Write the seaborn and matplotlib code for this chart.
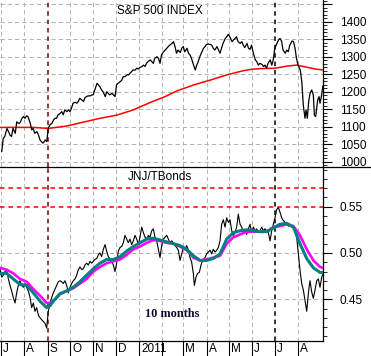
import numpy as np
import pandas as pd
import matplotlib
matplotlib.use("Agg")
import matplotlib.pyplot as plt
import seaborn as sns
from matplotlib.lines import Line2D
from matplotlib.ticker import MultipleLocator, FixedLocator
from matplotlib.transforms import blended_transform_factory, ScaledTranslation

# ---------------- data (x = days since 2010-07-01) ----------------
START = pd.Timestamp("2010-07-01")

spx_day = [1, 3, 5, 8, 10, 12, 14, 16, 19, 21,
           23, 25, 28, 30, 32, 34, 36, 39, 41, 43,
           45, 48, 50, 52, 54, 56, 59, 61, 63, 65,
           68, 70, 72, 74, 76, 79, 81, 83, 85, 88,
           90, 92, 94, 96, 99, 101, 103, 105, 108, 110,
           112, 114, 116, 119, 121, 123, 125, 128, 130, 132,
           134, 136, 139, 141, 143, 145, 148, 150, 152, 154,
           156, 159, 161, 163, 165, 168, 170, 172, 174, 176,
           179, 181, 183, 185, 188, 190, 192, 194, 196, 199,
           201, 203, 205, 208, 210, 212, 214, 216,
           219, 221, 223, 225, 228, 230, 232, 234, 236, 239,
           241, 243, 245, 248, 250, 252, 254, 256, 259, 261,
           263, 265, 268, 270, 272, 274, 276, 279, 281, 283,
           285, 288, 290, 292, 294, 296, 299, 301, 303, 305,
           308, 310, 312, 314, 316, 319, 321, 323, 325, 328,
           330, 332, 334, 336, 339, 341, 343, 345, 348, 350,
           352, 354, 356, 359, 361, 363, 365, 368, 370, 372,
           374, 376, 379, 381, 383, 385, 388, 390, 392, 394,
           396, 399, 401, 403, 405.3, 406.7, 408.4, 410.2, 412, 414.2,
           416.4, 417.8, 419.5, 420.9, 422.2, 424, 425.3, 427.1, 428.9, 430.7]
spx_val = [1029, 1067, 1072, 1095, 1086, 1076, 1072, 1095, 1081, 1114,
           1110, 1110, 1124, 1129, 1124, 1131, 1129, 1110, 1091, 1095,
           1081, 1086, 1076, 1062, 1057, 1053, 1062, 1057, 1095, 1105,
           1110, 1119, 1124, 1124, 1134, 1138, 1143, 1134, 1148, 1143,
           1148, 1143, 1153, 1167, 1170, 1167, 1172, 1181, 1176, 1172,
           1183, 1186, 1188, 1188, 1191, 1191, 1205, 1224, 1219, 1214,
           1205, 1200, 1186, 1200, 1195, 1191, 1195, 1191, 1186, 1219,
           1224, 1229, 1233, 1243, 1243, 1248, 1248, 1253, 1257, 1262,
           1262, 1267, 1265, 1269, 1272, 1276, 1272, 1281, 1286, 1291,
           1286, 1281, 1295, 1300, 1295, 1281, 1305, 1312,
           1319, 1324, 1329, 1333, 1338, 1343, 1329, 1310, 1319, 1312,
           1324, 1329, 1314, 1324, 1310, 1305, 1295, 1281, 1262, 1276,
           1286, 1300, 1314, 1324, 1329, 1335, 1336, 1335, 1333, 1324,
           1319, 1329, 1319, 1310, 1324, 1338, 1352, 1357, 1364, 1357,
           1343, 1348, 1352, 1357, 1343, 1338, 1343, 1333, 1326, 1338,
           1324, 1321, 1333, 1314, 1291, 1286, 1276, 1281, 1278, 1272,
           1276, 1267, 1281, 1291, 1276, 1291, 1324, 1338, 1348, 1352,
           1345, 1319, 1310, 1319, 1314, 1333, 1345, 1343, 1324, 1295,
           1276, 1262, 1229, 1162, 1124, 1148, 1124, 1172, 1195, 1205,
           1191, 1133, 1129, 1153, 1176, 1186, 1167, 1186, 1214, 1222]

spx_ma_day = [-1.3, 43.1, 63.1, 87.6, 109.8, 132, 154.2, 176.4, 198.7, 218.7,
              234.2, 256.4, 278.7, 300.9, 323.1, 334.2, 345.3, 365.3, 380.9,
              394.2, 407.6, 420.9, 432]
spx_ma_val = [1098, 1098, 1095, 1102, 1113, 1124, 1133, 1148, 1169, 1186,
              1202, 1219, 1233, 1248, 1260, 1264, 1266, 1267, 1273,
              1276, 1270, 1264, 1262]

jnj_day = [-1.3, 0.9, 3.1, 5.3, 7.6, 9.8, 12, 14.2, 16.4, 18.7,
           20.9, 23.1, 25.3, 27.6, 29.8, 32, 34.2, 36.4, 38.7, 40.9,
           43.1, 45.3, 47.6, 49.8, 52, 54.2, 56.4, 58.7, 60.9, 63.1,
           65.3, 67.6, 69.8, 72, 74.2, 76.4, 78.7, 80.9, 83.1, 85.3,
           87.6, 89.8, 92, 94.2, 96.4, 98.7, 100.9, 103.1, 105.3, 107.6,
           109.8, 112, 114.2, 116.4, 118.7, 120.9, 123.1, 125.3, 127.6, 129.8,
           132, 134.2, 136.4, 138.7, 140.9, 143.1, 145.3, 147.6, 149.8, 152,
           154.2, 156.4, 158.7, 160.9, 163.1, 165.3, 167.6, 169.8, 172, 174.2,
           176.4, 178.7, 180.9, 183.1, 185.3, 187.6, 189.8, 192, 194.2, 196.4,
           198.7, 200.9, 203.1, 205.3, 207.6, 209.8, 212,
           214.2, 216.4, 218.7, 220.9, 223.1, 225.3, 227.6, 229.8, 232, 234.2,
           236.4, 238.7, 240.9, 243.1, 245.3, 247.6, 249.8, 252, 254.2, 256.4,
           257.8, 260, 262.2, 264.4, 266.7, 268.9, 272, 274.2, 276.4, 278.7,
           280.9, 283.1, 285.3, 287.6, 289.8, 292, 294.2, 296.4, 298.7, 300.9,
           303.1, 305.3, 307.6, 309.8, 312, 314.2, 316.4, 318.7, 320.9, 323.1,
           325.3, 327.6, 329.8, 332, 334.2, 336.4, 338.7, 340.9, 343.1, 345.3,
           347.6, 349.8, 352, 354.2, 356.4, 358.7, 360.9, 363.1, 365.3, 367.6,
           369.8, 372, 374.2, 376.4, 378.7, 380.9, 383.1, 385.3, 387.6, 389.8,
           392, 394.2, 396.4, 398.7, 400.9, 403.1, 405.3, 407.6, 408.9, 410.7,
           412, 414.2, 416.4, 418.7, 420.9, 423.1, 425.3, 427.6, 429.8, 432]
jnj_val = [0.483, 0.474, 0.476, 0.480, 0.482, 0.472, 0.465, 0.459, 0.452, 0.446,
           0.457, 0.465, 0.470, 0.465, 0.463, 0.467, 0.463, 0.459, 0.452, 0.441,
           0.446, 0.437, 0.441, 0.433, 0.430, 0.428, 0.426, 0.424, 0.419, 0.437,
           0.446, 0.452, 0.457, 0.461, 0.465, 0.469, 0.470, 0.469, 0.467, 0.470,
           0.465, 0.457, 0.463, 0.467, 0.470, 0.472, 0.476, 0.482, 0.485, 0.482,
           0.483, 0.487, 0.489, 0.487, 0.491, 0.489, 0.491, 0.493, 0.494, 0.498,
           0.500, 0.496, 0.504, 0.509, 0.502, 0.496, 0.494, 0.491, 0.487, 0.480,
           0.489, 0.502, 0.506, 0.507, 0.511, 0.519, 0.515, 0.511, 0.515, 0.509,
           0.513, 0.519, 0.515, 0.509, 0.517, 0.528, 0.522, 0.517, 0.515, 0.519,
           0.517, 0.524, 0.526, 0.517, 0.513, 0.504, 0.495,
           0.508, 0.515, 0.517, 0.519, 0.515, 0.511, 0.513, 0.511, 0.508, 0.506,
           0.503, 0.492, 0.499, 0.506, 0.504, 0.508, 0.503, 0.495, 0.490, 0.478,
           0.465, 0.474, 0.478, 0.479, 0.487, 0.492, 0.495, 0.499, 0.501, 0.503,
           0.499, 0.504, 0.501, 0.503, 0.506, 0.513, 0.531, 0.536, 0.528, 0.538,
           0.533, 0.536, 0.524, 0.519, 0.522, 0.528, 0.542, 0.531, 0.528, 0.522,
           0.524, 0.520, 0.526, 0.531, 0.522, 0.528, 0.524, 0.526, 0.522, 0.524,
           0.528, 0.524, 0.526, 0.524, 0.522, 0.513, 0.524, 0.531, 0.538, 0.547,
           0.549, 0.544, 0.538, 0.535, 0.533, 0.531, 0.529, 0.531, 0.528, 0.529,
           0.524, 0.517, 0.499, 0.481, 0.467, 0.460, 0.449, 0.437, 0.449, 0.463,
           0.470, 0.458, 0.451, 0.460, 0.470, 0.472, 0.463, 0.474, 0.478, 0.479]

teal_day = [-1.3, 7.6, 16.4, 25.3, 34.2, 43.1, 52, 60.9, 65.3, 69.8,
            78.7, 87.6, 96.4, 105.3, 114.2, 123.1, 132, 140.9, 149.8, 158.7,
            167.6, 176.4, 185.3, 194.2, 203.1, 212, 220.9, 229.8, 238.7, 247.6,
            256.4, 265.3, 274.2, 283.1, 292, 300.9, 309.8, 318.7, 327.6, 336.4,
            345.3, 354.2, 363.1, 372, 380.9, 389.8, 398.7, 407.6, 416.4, 425.3, 432]
teal_val = [0.478, 0.478, 0.472, 0.466, 0.465, 0.457, 0.448, 0.441, 0.443, 0.448,
            0.456, 0.459, 0.463, 0.469, 0.476, 0.483, 0.489, 0.493, 0.493, 0.496,
            0.502, 0.507, 0.511, 0.515, 0.516, 0.514, 0.512, 0.510, 0.508, 0.504,
            0.497, 0.492, 0.492, 0.494, 0.499, 0.515, 0.522, 0.524, 0.525, 0.524,
            0.523, 0.523, 0.527, 0.531, 0.532, 0.528, 0.510, 0.494, 0.484, 0.479, 0.479]

magenta_day = [-1.3, 7.6, 16.4, 25.3, 34.2, 43.1, 52, 60.9, 65.3, 72,
               78.7, 87.6, 96.4, 105.3, 114.2, 123.1, 132, 140.9, 149.8, 158.7,
               167.6, 176.4, 185.3, 194.2, 203.1, 212, 220.9, 229.8, 238.7, 247.6,
               256.4, 265.3, 274.2, 283.1, 292, 300.9, 309.8, 318.7, 327.6, 336.4,
               345.3, 354.2, 363.1, 372, 380.9, 389.8, 398.7, 407.6, 416.4, 425.3, 432]
magenta_val = [0.484, 0.482, 0.478, 0.472, 0.469, 0.461, 0.454, 0.446, 0.446, 0.450,
               0.456, 0.459, 0.462, 0.467, 0.472, 0.480, 0.485, 0.489, 0.491, 0.493,
               0.498, 0.504, 0.507, 0.511, 0.514, 0.513, 0.511, 0.510, 0.507, 0.503,
               0.495, 0.492, 0.493, 0.495, 0.497, 0.510, 0.517, 0.520, 0.523, 0.523,
               0.523, 0.523, 0.528, 0.529, 0.531, 0.529, 0.519, 0.504, 0.492, 0.485, 0.483]

month_starts = pd.date_range("2010-07-01", "2011-08-01", freq="MS")
month_labels = ["J", "A", "S", "O", "N", "D", "2011", "", "M", "A", "M", "J", "J", "A"]
spx_ticks = [1000, 1050, 1100, 1150, 1200, 1250, 1300, 1350, 1400, 1450]
spx_tick_labels = ["1000", "1050", "1100", "1150", "1200", "1250", "1300", "1350", "1400", ""]
jnj_ticks = [0.45, 0.50, 0.55]
jnj_grid = [0.45, 0.50]
jnj_red_levels = [0.55, 0.57]
red_marker_date = pd.Timestamp("2010-09-01")
black_marker_date = pd.Timestamp("2011-07-01")

def to_dates(days):
    return START + pd.to_timedelta(np.array(days, dtype=float), unit="D")

spx_df = pd.DataFrame({"date": to_dates(spx_day), "value": spx_val})
spx_ma_df = pd.DataFrame({"date": to_dates(spx_ma_day), "value": spx_ma_val})
jnj_df = pd.DataFrame({"date": to_dates(jnj_day), "value": jnj_val})
teal_df = pd.DataFrame({"date": to_dates(teal_day), "value": teal_val})
mag_df = pd.DataFrame({"date": to_dates(magenta_day), "value": magenta_val})

# ---------------- style ----------------
sns.set_style("white")
plt.rcParams["font.family"] = ["Liberation Sans", "DejaVu Sans"]

W, H = 371, 356
fig = plt.figure(figsize=(W / 100, H / 100), dpi=100)
fig.patch.set_facecolor("white")

sep_y = 167.3
bot_y = 340.7
right_x = 323.3
ax1 = fig.add_axes([0, 1 - sep_y / H, right_x / W, sep_y / H])
ax2 = fig.add_axes([0, 1 - bot_y / H, right_x / W, (bot_y - sep_y) / H])

xmin = START + pd.Timedelta(days=-1.33)
xmax = START + pd.Timedelta(days=429.7)

grid_kw = dict(color="#b4b4b4", lw=0.75, ls=(0, (4, 3)), zorder=0.5)

for ax in (ax1, ax2):
    ax.set_facecolor("white")
    for m in month_starts:
        if m == red_marker_date:
            ax.axvline(m, color="#800000", lw=1.1, ls=(0, (3, 2.5)), zorder=0.6)
        elif m == black_marker_date:
            ax.axvline(m, color="black", lw=1.1, ls=(0, (3, 2.5)), zorder=0.6)
        else:
            ax.axvline(m, **grid_kw)

for v in spx_ticks:
    ax1.axhline(v, **grid_kw)
for v in jnj_grid:
    ax2.axhline(v, **grid_kw)
for v in jnj_red_levels:
    ax2.axhline(v, color="#ff0000", lw=1.1, ls=(0, (3, 2.5)), zorder=0.6)

# ---------------- lines ----------------
sns.lineplot(data=spx_df, x="date", y="value", ax=ax1, color="black", lw=0.9,
             estimator=None, sort=False, zorder=3)
sns.lineplot(data=spx_ma_df, x="date", y="value", ax=ax1, color="#ff0000", lw=1.1,
             estimator=None, sort=False, zorder=2)

sns.lineplot(data=jnj_df, x="date", y="value", ax=ax2, color="black", lw=0.8,
             estimator=None, sort=False, zorder=2)
sns.lineplot(data=mag_df, x="date", y="value", ax=ax2, color="#ff00ff", lw=1.9,
             estimator=None, sort=False, zorder=3)
sns.lineplot(data=teal_df, x="date", y="value", ax=ax2, color="#008080", lw=2.2,
             estimator=None, sort=False, zorder=4)

# ---------------- axes ----------------
ax1.set_ylim(984, 1462)
ax2.set_ylim(0.4053, 0.5925)
for ax in (ax1, ax2):
    ax.set_xlim(xmin, xmax)
    ax.set_xlabel("")
    ax.set_ylabel("")
    ax.yaxis.tick_right()
    for s in ("left", "top"):
        ax.spines[s].set_visible(False)
    ax.spines["right"].set_color("black")
    ax.spines["right"].set_linewidth(0.9)
    ax.tick_params(axis="y", which="major", direction="out", length=6.5, width=0.8,
                   pad=5.5, labelsize=8.5, colors="black", right=True, left=False)
    ax.tick_params(axis="y", which="minor", direction="out", length=3, width=0.7,
                   right=True, left=False)

ax1.spines["bottom"].set_visible(False)
ax1.set_xticks([])
ax1.yaxis.set_major_locator(FixedLocator(spx_ticks))
ax1.set_yticklabels(spx_tick_labels)
ax1.yaxis.set_minor_locator(MultipleLocator(10))

ax2.yaxis.set_major_locator(FixedLocator(jnj_ticks))
ax2.set_yticklabels([f"{t:.2f}" for t in jnj_ticks])
ax2.yaxis.set_minor_locator(MultipleLocator(0.01))
ax2.spines["bottom"].set_color("black")
ax2.spines["bottom"].set_linewidth(0.9)
ax2.set_xticks(month_starts)
ax2.set_xticklabels([""] * len(month_starts))
ax2.tick_params(axis="x", which="major", direction="out", length=11.5, width=0.8,
                colors="black", bottom=True)
ax2.tick_params(axis="x", which="minor", bottom=False)

# month labels, left-aligned just right of each tick
trans = blended_transform_factory(ax2.transData, fig.transFigure) + \
    ScaledTranslation(2 / 100, 0, fig.dpi_scale_trans)
for m, lab in zip(month_starts, month_labels):
    ax2.text(m, 1 - 349.5 / H, lab, transform=trans, ha="left", va="center",
             fontsize=8.5, color="black", clip_on=False)

# separator line spanning the whole width
fig.add_artist(Line2D([0, 1], [1 - sep_y / H, 1 - sep_y / H], color="black",
                      lw=0.9, transform=fig.transFigure))

# titles and annotation
ax1.text(160 / right_x, 1 - 11 / sep_y, "S&P 500 INDEX", transform=ax1.transAxes,
         ha="center", va="center", fontsize=8.5, color="black")
ax2.text(160 / right_x, (bot_y - 176.7) / (bot_y - sep_y), "JNJ/TBonds",
         transform=ax2.transAxes, ha="center", va="center", fontsize=8.5, color="black")
ax2.text(172 / right_x, (bot_y - 314) / (bot_y - sep_y), "10 months",
         transform=ax2.transAxes, ha="center", va="center", fontsize=8.8,
         fontweight="bold", family=["Liberation Serif", "DejaVu Serif"], color="#0a0a30")

fig.savefig("out.png", dpi=100, facecolor="white")
